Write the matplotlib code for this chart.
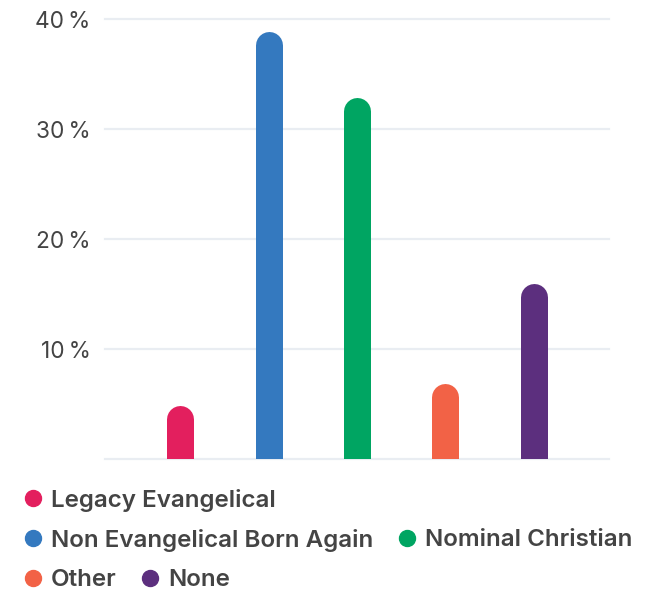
import matplotlib
matplotlib.use("Agg")
import matplotlib.pyplot as plt
from matplotlib.lines import Line2D

plt.rcParams['font.family'] = ['Inter', 'DejaVu Sans']

# data
categories = ["Legacy Evangelical", "Non Evangelical Born Again",
              "Nominal Christian", "Other", "None"]
values = [4.9, 38.9, 32.9, 6.9, 16.0]
colors = ["#E31F5E", "#3479BF", "#00A562", "#F26246", "#5C2F7E"]
y_ticks = [10, 20, 30, 40]
tick_labels = ["10\u2009%", "20\u2009%", "30\u2009%", "40\u2009%"]
legend_rows = [[0], [1, 2], [3, 4]]

W, H = 647, 593
fig = plt.figure(figsize=(W / 100, H / 100), dpi=100)
ax = fig.add_axes([105 / W, (H - 459) / H, 504 / W, 440 / H])

xs = list(range(len(categories)))
ax.set_xlim(-0.85, 4.85)
ax.set_ylim(0, 40)

bar_px = 27                 # bar width in pixels
r = (bar_px / 2) / 11.0     # cap radius in data units (11px per percent)

for gy in [0] + y_ticks:
    ax.axhline(gy, color="#E9EDF2", lw=1.6, zorder=0, clip_on=False)

# bars as thick lines with round caps; bottom cap clipped by the axes
for x, v, c in zip(xs, values, colors):
    ax.plot([x, x], [-r, v - r], color=c, lw=bar_px * 0.72,
            solid_capstyle="round", zorder=2)

ax.set_yticks(y_ticks)
ax.set_yticklabels(tick_labels)
ax.set_xticks([])
ax.tick_params(axis="y", length=0, pad=10.5, labelsize=16.3, labelcolor="#444444")
for s in ax.spines.values():
    s.set_visible(False)

# flowing legend underneath
row_y = [498, 538, 578]
fig.canvas.draw()
renderer = fig.canvas.get_renderer()
for row, yy in zip(legend_rows, row_y):
    cx = 32.7
    for i in row:
        fy = 1 - yy / H
        fig.add_artist(Line2D([cx / W], [fy], marker="o", ms=11.5,
                              color=colors[i], lw=0, transform=fig.transFigure))
        t = fig.text((cx + 18) / W, fy, categories[i], fontsize=17.4,
                     fontweight="semibold", color="#444444", va="center_baseline")
        bb = t.get_window_extent(renderer)
        cx = bb.x1 + 34

fig.savefig("out.png", dpi=100)
